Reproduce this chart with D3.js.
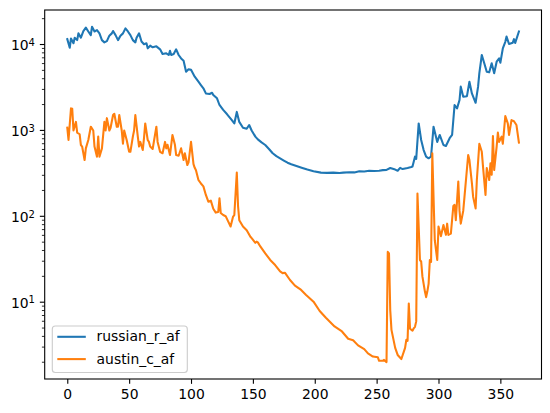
<!DOCTYPE html>
<html><head><meta charset="utf-8">
<script src="https://cdn.jsdelivr.net/npm/d3@7"></script>
<style>html,body{margin:0;padding:0;background:#fff;}svg{display:block;font-family:"DejaVu Sans",sans-serif;}</style>
</head><body>
<svg id="c" width="550" height="413"></svg>
<script>
const seriesNames = ["russian_r_af", "austin_c_af"];
const seriesColors = ["#1f77b4", "#ff7f0e"];

const russianDays = [0,2,3,5,6,8,9,11,13,15,17,19,20,22,24,26,28,30,32,34,36,37,39,41,43,45,47,49,51,53,55,56,58,60,62,64,65,67,69,72,75,77,80,82,83,84,86,88,90,92,94,96,98,100,103,106,108,110,112,115,117,118,121,123,126,129,133,135,137,139,142,145,147,149,152,154,157,160,163,166,169,172,175,178,181,184,187,190,194,199,205,210,215,220,223,228,232,236,240,244,248,252,255,258,261,265,267,269,271,275,278,279,281,282,284,286,288,290,292,294,296,299,301,304,306,309,311,313,315,317,318,320,323,325,327,330,332,333,335,337,339,341,343,345,347,349,350,352,354,355,357,360,361,362,365];
const russianVals = [11400,9050,11600,10200,11850,11100,13300,11850,14160,15500,14000,12700,15900,14000,14500,13300,11100,10450,10800,12500,13300,14160,12700,11100,12500,13300,15200,14000,12700,11100,10450,11850,13300,10700,9950,10200,8900,9560,9150,9400,8670,7650,7800,7450,8350,7450,7650,8670,7450,6800,6400,4750,5080,5000,4170,3640,3330,3050,2660,2620,2710,2550,2330,1950,1710,1530,1300,1190,1620,1240,1060,1030,1140,985,835,775,715,667,600,535,495,467,440,415,398,385,372,360,345,330,318,316,318,315,318,322,320,330,328,335,333,335,340,342,360,345,335,362,350,360,370,375,488,460,1190,763,583,488,467,490,1090,725,873,667,650,800,873,1950,1780,2230,3190,2430,2470,3640,2660,2070,3190,4560,7450,5960,4750,4680,5960,4560,6230,6800,6050,8900,10600,12200,10000,10350,11400,10300,14000];

const austinDays = [0,1,3,4,5,7,8,10,11,12,14,15,17,19,21,22,24,25,26,28,30,31,32,34,35,37,38,40,41,42,44,45,46,48,50,51,53,54,55,57,58,59,61,62,63,65,66,67,69,72,73,75,77,79,80,81,83,85,87,88,90,92,94,95,97,98,100,102,103,104,106,108,110,112,114,116,118,120,122,123,124,126,128,130,132,134,135,137,138,139,142,145,148,149,152,153,154,156,160,164,168,172,174,176,180,184,189,193,199,204,209,216,222,227,231,235,240,243,247,251,252,255,256,258,259,260,261,262,265,267,270,273,274,275,276,277,279,280,281,282,283,285,286,287,289,290,291,292,293,294,295,297,299,300,302,304,306,307,308,310,312,313,314,316,317,318,320,321,324,325,327,328,330,331,333,335,336,338,339,341,342,343,344,345,347,348,349,351,352,354,356,357,359,361,363,365];
const austinVals = [1060,763,1780,1760,985,1240,930,890,667,640,446,610,763,1090,985,640,488,835,488,610,1240,985,1370,985,1060,1490,1540,1090,1090,1490,985,690,985,763,556,556,835,985,1490,835,640,725,583,800,1190,763,725,640,600,1090,725,556,535,725,610,670,510,873,670,510,500,610,446,535,390,420,725,400,362,340,261,238,220,175,146,150,121,109,111,160,108,102,99,86,75,98,102,318,130,89,75,68,57,55,48.5,50,49,44,36.5,30.6,26.7,22.5,21.5,21.7,17.9,15.4,13.7,12.0,10.0,7.8,6.5,5.15,4.5,3.7,3.55,3.1,2.8,2.5,2.3,2.25,2.05,2.05,2.1,1.98,38,36.5,8.0,4.7,2.9,2.4,2.15,2.9,3.6,3.5,9.5,4.85,4.6,4.9,5.1,5.9,182,30.6,29.4,19.7,13.2,11.3,13.2,16.1,30.6,29,535,52,30.6,75,58,78,60,81,60,62,130,134,89,250,114,81,114,166,510,446,240,166,122,261,690,556,372,175,360,261,408,300,850,341,640,930,725,835,690,1450,1190,873,1300,1260,1140,710];

const xTicks = [0,50,100,150,200,250,300,350];
const yTickExps = [1,2,3,4];

const svg = d3.select("#c");
const L = 44.7, R = 541.5, T = 10, B = 379;
const x = d3.scaleLinear().domain([-18.25, 383.25]).range([L, R]);
const y = d3.scaleLog().domain([Math.pow(10,0.100), Math.pow(10,4.396)]).range([B, T]);

// clip
svg.append("defs").append("clipPath").attr("id","clip").append("rect")
  .attr("x",L).attr("y",T).attr("width",R-L).attr("height",B-T);

const series = [
  russianDays.map((d,i)=>[d, russianVals[i]]),
  austinDays.map((d,i)=>[d, austinVals[i]])
];
const line = d3.line().x(d=>x(d[0])).y(d=>y(d[1]));
const g = svg.append("g").attr("clip-path","url(#clip)");
series.forEach((s,i)=>{
  g.append("path").attr("d", line(s)).attr("fill","none")
   .attr("stroke", seriesColors[i]).attr("stroke-width",2.08)
   .attr("stroke-linejoin","round").attr("stroke-linecap","square");
});

// x axis
const xAxis = d3.axisBottom(x).tickValues(xTicks).tickSize(4.86).tickPadding(4.86).tickFormat(d3.format("d"));
const xg = svg.append("g").attr("transform",`translate(0,${B})`).call(xAxis);
xg.select(".domain").remove();
xg.selectAll(".tick line").attr("stroke","#000").attr("stroke-width",1.1);
xg.selectAll(".tick text").attr("font-size",13.9).attr("font-family","DejaVu Sans").attr("fill","#000");

// y axis major
const yMajor = yTickExps.map(e=>Math.pow(10,e));
const yAxis = d3.axisLeft(y).tickValues(yMajor).tickSize(4.86).tickFormat("");
const yg = svg.append("g").attr("transform",`translate(${L},0)`).call(yAxis);
yg.select(".domain").remove();
yg.selectAll(".tick line").attr("stroke","#000").attr("stroke-width",1.1);
// minor ticks
const [ymin, ymax] = y.domain();
const minor = [];
for (let k=0;k<=4;k++) for (let m=2;m<=9;m++){ const v=m*Math.pow(10,k); if (v>=ymin && v<=ymax) minor.push(v); }
const yAxisMinor = d3.axisLeft(y).tickValues(minor).tickSize(2.78).tickFormat("");
const ymg = svg.append("g").attr("transform",`translate(${L},0)`).call(yAxisMinor);
ymg.select(".domain").remove();
ymg.selectAll(".tick line").attr("stroke","#000").attr("stroke-width",0.83);
// y labels with superscripts
yTickExps.forEach(e=>{
  const t = svg.append("text").attr("x", L-4.86-4.86).attr("y", y(Math.pow(10,e))+6.3)
    .attr("text-anchor","end").attr("font-size",13.9).attr("fill","#000");
  t.append("tspan").text("10");
  t.append("tspan").attr("dy",-4.6).attr("font-size",10).text(String(e));
});

// frame
svg.append("rect").attr("x",L).attr("y",T).attr("width",R-L).attr("height",B-T)
  .attr("fill","none").attr("stroke","#000").attr("stroke-width",1.1);

// legend
const lg = svg.append("g");
lg.append("rect").attr("x",52.3).attr("y",326).attr("width",135).attr("height",46.5)
  .attr("rx",3).attr("ry",3).attr("fill","#fff").attr("fill-opacity",0.8)
  .attr("stroke","#cccccc").attr("stroke-width",1.1);
seriesNames.forEach((n,i)=>{
  const ly = 336.8 + i*22.3;
  lg.append("line").attr("x1",57.3).attr("x2",85.8).attr("y1",ly).attr("y2",ly)
    .attr("stroke",seriesColors[i]).attr("stroke-width",2.08);
  lg.append("text").attr("x",96.6).attr("y",ly+4.6).attr("font-size",13.9).attr("fill","#000").text(n);
});
</script>
</body></html>
